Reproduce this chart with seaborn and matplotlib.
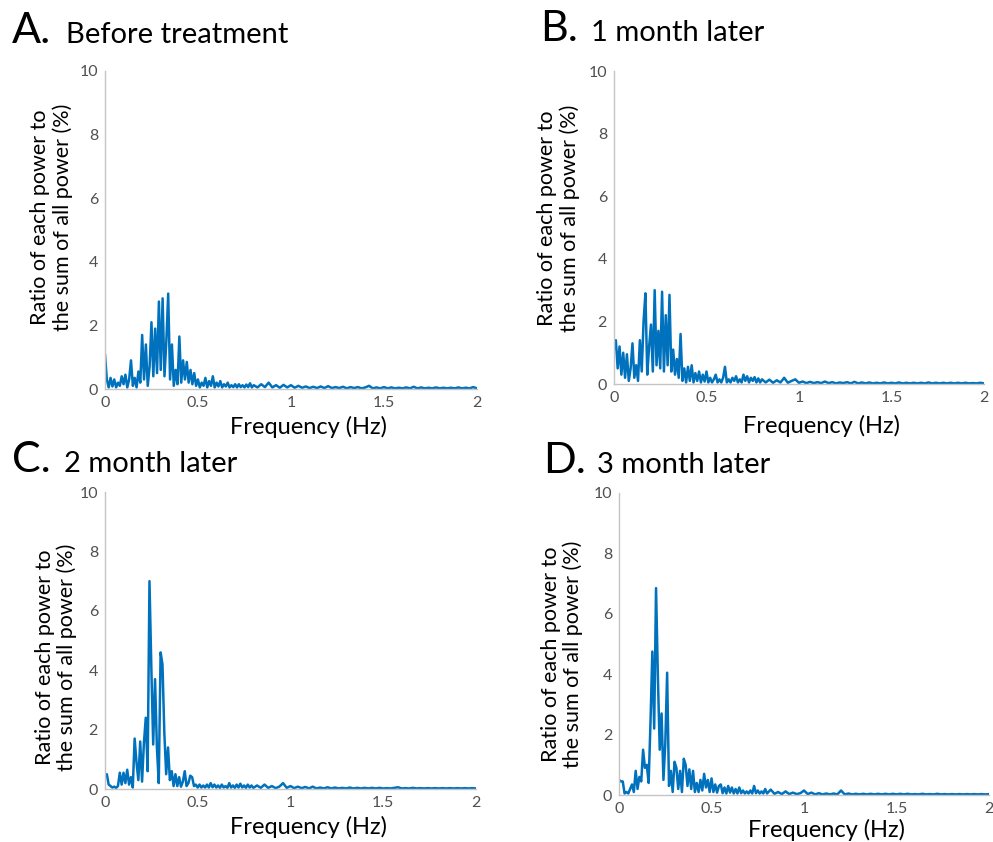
import matplotlib
matplotlib.use("Agg")
import matplotlib.pyplot as plt
import seaborn as sns
import numpy as np
import pandas as pd

# Frekans ekseni: 0-0.8 Hz arasi 0.01, 0.82-2 Hz arasi 0.02 adim
FREQ_HEAD = np.round(np.arange(0, 0.805, 0.01), 2)
FREQ_TAIL = np.round(np.arange(0.82, 2.001, 0.02), 2)

# A. Before treatment
A_HEAD = [1.10, 0.30, 0.05, 0.35, 0.08, 0.30, 0.05, 0.20, 0.10, 0.40,
          0.15, 0.45, 0.05, 0.30, 0.90, 0.10, 0.35, 0.05, 0.55, 0.20,
          1.70, 0.30, 1.40, 0.10, 0.70, 2.10, 0.40, 1.90, 0.50, 2.75,
          0.60, 2.85, 0.40, 1.50, 3.00, 0.30, 1.40, 0.10, 0.60, 0.15,
          1.65, 0.20, 0.90, 0.30, 0.85, 0.20, 0.60, 0.15, 0.50, 0.10,
          0.30, 0.05, 0.20, 0.10, 0.35, 0.05, 0.25, 0.10, 0.40, 0.05,
          0.20, 0.08, 0.25, 0.05, 0.15, 0.08, 0.20, 0.05, 0.12, 0.06,
          0.15, 0.05, 0.15, 0.06, 0.12, 0.05, 0.14, 0.06, 0.18, 0.05,
          0.12]
A_TAIL = [0.05, 0.15, 0.06, 0.20, 0.05, 0.12, 0.04, 0.13, 0.05, 0.12,
          0.04, 0.10, 0.04, 0.08, 0.03, 0.07, 0.03, 0.08, 0.03, 0.09,
          0.03, 0.06, 0.03, 0.07, 0.02, 0.06, 0.03, 0.06, 0.02, 0.05,
          0.10, 0.02, 0.05, 0.02, 0.06, 0.02, 0.05, 0.02, 0.04, 0.02,
          0.05, 0.02, 0.07, 0.02, 0.05, 0.02, 0.04, 0.02, 0.05, 0.02,
          0.04, 0.02, 0.04, 0.02, 0.05, 0.02, 0.04, 0.02, 0.06, 0.02]

# B. 1 month later
B_HEAD = [1.10, 1.40, 0.50, 1.20, 0.30, 1.00, 0.20, 0.95, 0.10, 0.50,
          1.30, 0.20, 0.60, 0.10, 1.40, 0.40, 2.00, 2.90, 0.30, 1.20,
          1.90, 0.40, 3.00, 0.60, 1.70, 0.50, 2.95, 0.40, 2.20, 0.60,
          2.85, 0.40, 1.10, 0.30, 0.80, 0.20, 1.60, 0.10, 0.50, 0.05,
          0.55, 0.10, 0.60, 0.05, 0.35, 0.10, 0.40, 0.05, 0.30, 0.08,
          0.40, 0.05, 0.20, 0.05, 0.15, 0.30, 0.05, 0.15, 0.05, 0.20,
          0.55, 0.05, 0.15, 0.05, 0.20, 0.10, 0.25, 0.05, 0.15, 0.05,
          0.30, 0.10, 0.25, 0.05, 0.20, 0.10, 0.22, 0.05, 0.18, 0.05,
          0.15]
B_TAIL = [0.05, 0.14, 0.04, 0.12, 0.05, 0.20, 0.04, 0.10, 0.15, 0.04,
          0.08, 0.03, 0.07, 0.03, 0.06, 0.03, 0.08, 0.03, 0.06, 0.02,
          0.05, 0.03, 0.06, 0.02, 0.07, 0.02, 0.05, 0.02, 0.05, 0.02,
          0.04, 0.02, 0.05, 0.02, 0.04, 0.02, 0.05, 0.02, 0.04, 0.02,
          0.04, 0.02, 0.04, 0.02, 0.05, 0.02, 0.04, 0.02, 0.04, 0.02,
          0.04, 0.02, 0.04, 0.02, 0.04, 0.02, 0.03, 0.02, 0.04, 0.02]

# C. 2 month later
C_HEAD = [0.45, 0.50, 0.15, 0.10, 0.05, 0.08, 0.04, 0.10, 0.55, 0.15,
          0.55, 0.20, 0.65, 0.15, 0.40, 0.05, 1.70, 0.90, 0.30, 1.60,
          0.25, 1.55, 2.40, 0.60, 7.00, 4.10, 1.50, 3.70, 1.40, 0.20,
          4.60, 4.20, 1.90, 0.50, 1.40, 0.30, 0.60, 0.10, 0.50, 0.10,
          0.40, 0.08, 0.25, 0.60, 0.10, 0.20, 0.45, 0.40, 0.10, 0.15,
          0.05, 0.15, 0.05, 0.12, 0.05, 0.15, 0.05, 0.20, 0.06, 0.15,
          0.05, 0.12, 0.04, 0.15, 0.05, 0.10, 0.04, 0.20, 0.05, 0.12,
          0.04, 0.15, 0.05, 0.18, 0.05, 0.12, 0.04, 0.15, 0.05, 0.12,
          0.04]
C_TAIL = [0.12, 0.04, 0.15, 0.04, 0.10, 0.03, 0.08, 0.20, 0.04, 0.10,
          0.03, 0.08, 0.03, 0.07, 0.02, 0.08, 0.02, 0.05, 0.02, 0.06,
          0.02, 0.05, 0.02, 0.04, 0.02, 0.05, 0.02, 0.04, 0.02, 0.04,
          0.02, 0.04, 0.02, 0.04, 0.02, 0.03, 0.02, 0.04, 0.06, 0.02,
          0.03, 0.02, 0.04, 0.02, 0.03, 0.02, 0.03, 0.02, 0.03, 0.02,
          0.03, 0.02, 0.03, 0.02, 0.03, 0.02, 0.03, 0.02, 0.03, 0.02]

# D. 3 month later
D_HEAD = [0.50, 0.45, 0.45, 0.05, 0.10, 0.05, 0.20, 0.35, 0.10, 0.80,
          0.20, 0.60, 0.45, 1.50, 0.90, 1.00, 0.40, 2.40, 4.75, 2.20,
          6.85, 3.90, 1.50, 2.70, 0.50, 1.70, 4.05, 0.30, 0.80, 0.10,
          1.10, 0.90, 0.20, 0.80, 0.10, 1.20, 1.00, 0.30, 0.85, 0.20,
          0.80, 0.10, 0.40, 0.10, 0.50, 0.15, 0.70, 0.25, 0.50, 0.10,
          0.55, 0.10, 0.35, 0.08, 0.30, 0.35, 0.06, 0.25, 0.05, 0.30,
          0.08, 0.25, 0.05, 0.20, 0.05, 0.25, 0.06, 0.15, 0.05, 0.12,
          0.05, 0.15, 0.05, 0.30, 0.06, 0.15, 0.05, 0.12, 0.05, 0.20,
          0.05]
D_TAIL = [0.18, 0.04, 0.10, 0.03, 0.12, 0.03, 0.08, 0.03, 0.06, 0.15,
          0.03, 0.08, 0.02, 0.06, 0.02, 0.05, 0.02, 0.05, 0.02, 0.15,
          0.02, 0.05, 0.02, 0.04, 0.02, 0.04, 0.02, 0.04, 0.02, 0.04,
          0.02, 0.04, 0.02, 0.04, 0.02, 0.04, 0.02, 0.04, 0.02, 0.03,
          0.02, 0.04, 0.02, 0.03, 0.02, 0.04, 0.02, 0.03, 0.02, 0.03,
          0.02, 0.03, 0.02, 0.03, 0.02, 0.03, 0.02, 0.03, 0.02, 0.03]

PANELS = [
    # harf, baslik, degerler, eksen konumu, harf/baslik konumu, xlabel ve ylabel konumu
    ("A.", "Before treatment", A_HEAD + A_TAIL,
     [0.1057, 0.538, 0.3746, 0.3777], (0.012, 0.066, 0.949),
     (0.548, -0.12), (-0.086, 0.54)),
    ("B.", "1 month later", B_HEAD + B_TAIL,
     [0.6183, 0.5439, 0.3726, 0.3717], (0.544, 0.595, 0.951),
     (0.562, -0.134), (-0.092, 0.53)),
    ("C.", "2 month later", C_HEAD + C_TAIL,
     [0.1057, 0.0629, 0.3736, 0.3527], (0.012, 0.064, 0.439),
     (0.548, -0.128), (-0.075, 0.445)),
    ("D.", "3 month later", D_HEAD + D_TAIL,
     [0.6234, 0.0558, 0.3726, 0.3587], (0.547, 0.601, 0.438),
     (0.562, -0.117), (-0.097, 0.465)),
]

LINE_COLOR = "#0072BD"
SPINE_COLOR = "#c4c4c4"
TICK_COLOR = "#505050"

sns.set_theme(style="white")
plt.rcParams["font.family"] = ["Lato", "DejaVu Sans"]

freq = np.concatenate([FREQ_HEAD, FREQ_TAIL])

fig = plt.figure(figsize=(9.93, 8.42), dpi=100)

for letter, title, values, rect, head_pos, xlab_pos, ylab_pos in PANELS:
    ax = fig.add_axes(rect)
    df = pd.DataFrame({"freq": freq, "ratio": values})
    sns.lineplot(data=df, x="freq", y="ratio", ax=ax, color=LINE_COLOR,
                 linewidth=1.8, estimator=None)

    ax.set_xlim(0, 2)
    ax.set_ylim(0, 10)
    ax.set_xticks([0, 0.5, 1, 1.5, 2])
    ax.set_xticklabels(["0", "0.5", "1", "1.5", "2"])
    ax.set_yticks([0, 2, 4, 6, 8, 10])
    ax.set_yticklabels(["0", "2", "4", "6", "8", "10"])
    ax.tick_params(axis="both", direction="in", length=3, width=0.8,
                   color=SPINE_COLOR, labelcolor=TICK_COLOR, labelsize=11.5, pad=5)

    for side in ["top", "right"]:
        ax.spines[side].set_visible(False)
    for side in ["left", "bottom"]:
        ax.spines[side].set_color(SPINE_COLOR)
        ax.spines[side].set_linewidth(1.0)

    ax.set_ylabel("Ratio of each power to\nthe sum of all power (%)",
                  fontsize=15.5, color="black", linespacing=1.12)
    ax.yaxis.set_label_coords(*ylab_pos)
    ax.set_xlabel("Frequency (Hz)", fontsize=17, color="black")
    ax.xaxis.set_label_coords(*xlab_pos)
    ax.xaxis.label.set_va("center")

    fig.text(head_pos[0], head_pos[2], letter, fontsize=31, va="baseline",
             color="black")
    fig.text(head_pos[1], head_pos[2], title, fontsize=21, va="baseline",
             color="black")

fig.savefig("out.png", dpi=100)
plt.close(fig)
